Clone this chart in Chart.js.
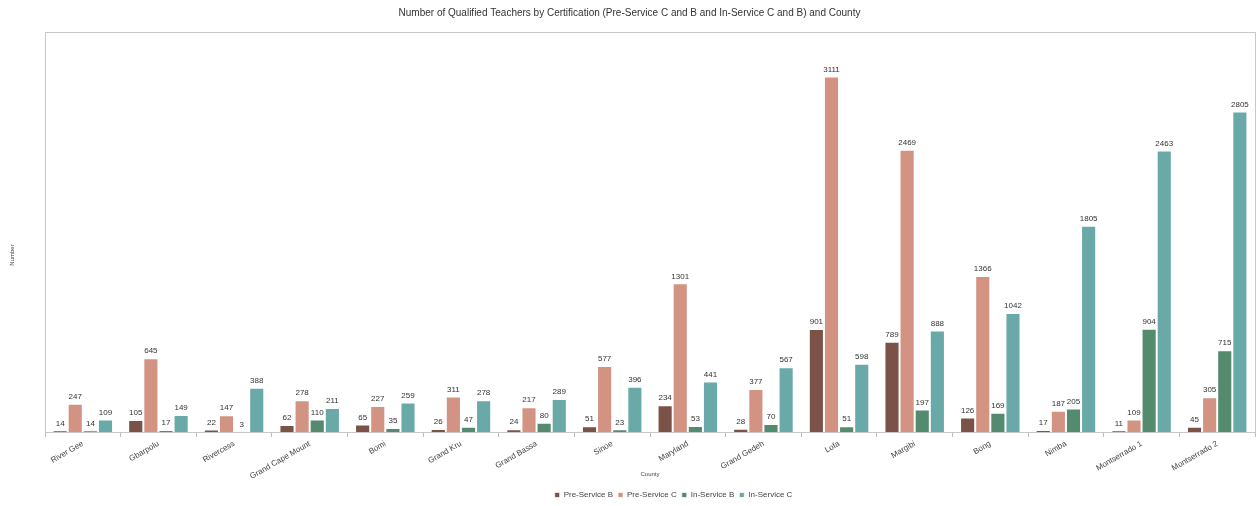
<!DOCTYPE html>
<html>
<head>
<meta charset="utf-8">
<script src="https://cdn.jsdelivr.net/npm/chart.js@4.4.0/dist/chart.umd.min.js"></script>
<style>
  html, body { margin: 0; padding: 0; background: #fff; }
  #wrap { width: 1258px; height: 506px; }
</style>
</head>
<body>
<div id="wrap"><canvas id="chart"></canvas></div>
<script>
const counties = ['River Gee', 'Gbarpolu', 'Rivercess', 'Grand Cape Mount', 'Bomi', 'Grand Kru', 'Grand Bassa', 'Sinoe', 'Maryland', 'Grand Gedeh', 'Lofa', 'Margibi', 'Bong', 'Nimba', 'Montserrado 1', 'Montserrado 2'];
const preServiceB = [14, 105, 22, 62, 65, 26, 24, 51, 234, 28, 901, 789, 126, 17, 11, 45];
const preServiceC = [247, 645, 147, 278, 227, 311, 217, 577, 1301, 377, 3111, 2469, 1366, 187, 109, 305];
const inServiceB = [14, 17, 3, 110, 35, 47, 80, 23, 53, 70, 51, 197, 169, 205, 904, 715];
const inServiceC = [109, 149, 388, 211, 259, 278, 289, 396, 441, 567, 598, 888, 1042, 1805, 2463, 2805];

Chart.defaults.font.family = '"Liberation Sans", Arial, sans-serif';
Chart.defaults.color = '#444';

// value labels above each bar
const barLabels = {
  id: 'barLabels',
  afterDatasetsDraw(chart) {
    const ctx = chart.ctx;
    ctx.save();
    ctx.font = '8px "Liberation Sans", Arial, sans-serif';
    ctx.fillStyle = '#333';
    ctx.textAlign = 'center';
    ctx.textBaseline = 'bottom';
    chart.data.datasets.forEach((ds, i) => {
      chart.getDatasetMeta(i).data.forEach((bar, j) => {
        ctx.fillText(ds.data[j], bar.x, bar.y - 3);
      });
    });
    ctx.restore();
  }
};

// grey frame round the plot area + y title centred on the page
const plotFrame = {
  id: 'plotFrame',
  beforeDatasetsDraw(chart) {
    const { ctx, chartArea: a } = chart;
    ctx.save();
    ctx.strokeStyle = '#c8c8c8';
    ctx.lineWidth = 1;
    ctx.strokeRect(a.left + 0.5, a.top + 0.5, a.right - a.left, a.bottom - a.top);
    ctx.translate(12, 255);
    ctx.rotate(-Math.PI / 2);
    ctx.font = '6px "Liberation Sans", Arial, sans-serif';
    ctx.fillStyle = '#444';
    ctx.textAlign = 'center';
    ctx.textBaseline = 'middle';
    ctx.fillText('Number', 0, 0);
    ctx.restore();
  }
};

// legend sits a little right of centre in the original
const legendShift = {
  id: 'legendShift',
  afterLayout(chart) {
    chart.legend.left += 44;
    chart.legend.right += 44;
  }
};

const ds = (label, data, color) => ({
  label, data,
  backgroundColor: color,
  borderColor: 'rgba(255,255,255,0.7)',
  borderWidth: 1,
  categoryPercentage: 0.8,
  barPercentage: 1.0
});

new Chart(document.getElementById('chart'), {
  type: 'bar',
  data: {
    labels: counties,
    datasets: [
      ds('Pre-Service B', preServiceB, '#7b5247'),
      ds('Pre-Service C', preServiceC, '#d29383'),
      ds('In-Service B', inServiceB, '#548a6e'),
      ds('In-Service C', inServiceC, '#69aaa9')
    ]
  },
  options: {
    responsive: true,
    maintainAspectRatio: false,
    animation: false,
    layout: { padding: { left: 4, right: 3, top: 4, bottom: -3 } },
    plugins: {
      title: {
        display: true,
        text: 'Number of Qualified Teachers by Certification (Pre-Service C and B and In-Service C and B) and County',
        color: '#333',
        font: { size: 10, weight: 'normal' },
        padding: { top: 3, bottom: 13 }
      },
      legend: {
        position: 'bottom',
        labels: { boxWidth: 5, boxHeight: 5, font: { size: 8 }, color: '#444', padding: 5 }
      },
      tooltip: { enabled: false }
    },
    scales: {
      x: {
        offset: true,
        grid: { display: true, drawOnChartArea: false, offset: true, color: '#bbb', tickLength: 5 },
        border: { color: '#bbb' },
        ticks: { minRotation: 30, maxRotation: 30, font: { size: 8 }, color: '#444', padding: 2 },
        title: { display: true, text: 'County', font: { size: 6 }, color: '#444', padding: { top: 0, bottom: 8 } },
        afterFit(scale) { scale.height = 54; }
      },
      y: {
        min: 0,
        max: 3500,
        grid: { display: false },
        border: { color: '#c8c8c8' },
        ticks: { display: false },
        afterFit(scale) { scale.width = 41; }
      }
    }
  },
  plugins: [barLabels, plotFrame, legendShift]
});
</script>
</body>
</html>
